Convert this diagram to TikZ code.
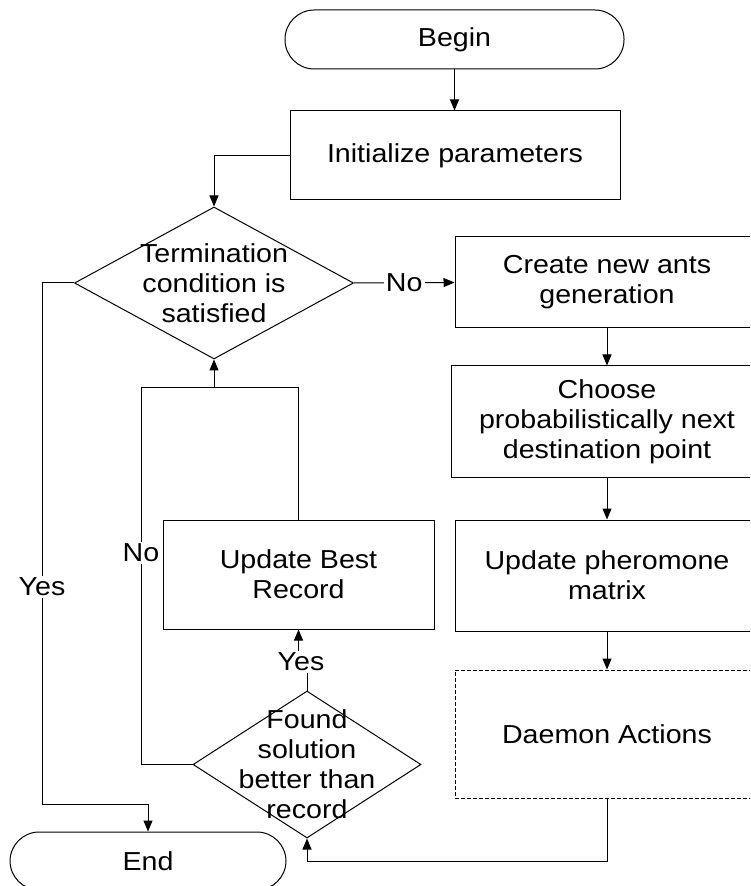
\documentclass[tikz,border=0pt]{standalone}
\usepackage{fontspec}
\setmainfont{Liberation Sans}[FakeStretch=1.1]
\usetikzlibrary{arrows.meta,shapes.geometric,calc}
\newcommand{\flowfont}{\fontsize{13pt}{15pt}\selectfont}
\tikzset{
  base/.style={draw, line width=0.5pt, inner sep=0pt, align=center, font=\flowfont},
  procbox/.style={base, rectangle},
  termbox/.style={base, rectangle, rounded corners=14.6pt},
  decbox/.style={base, diamond},
  dlabel/.style={font=\flowfont, align=center},
  conn/.style={line width=0.5pt},
  arr/.style={conn, -{Triangle[length=5.5pt,width=4.5pt]}},
  lbl/.style={font=\flowfont, fill=white, inner sep=1pt}
}
\begin{document}
\begin{tikzpicture}[x=0.5pt,y=-0.5pt]
\clip (0,0) rectangle (750,886);
\fill[white] (0,0) rectangle (750,886);

\node[termbox, minimum width=169.5pt, minimum height=29.5pt] (begin) at (454.5,39.5) {Begin};
\node[procbox, minimum width=165pt, minimum height=44.5pt] (init) at (455,155.5) {Initialize parameters};
\node[decbox, minimum width=139.5pt, minimum height=76pt] (term) at (214,283) {};
\node[dlabel] (termtxt) at (term.center) {Termination\\condition is\\satisfied};
\node[procbox, minimum width=152pt, minimum height=45.5pt] (create) at (607,282.5) {Create new ants\\generation};
\node[procbox, minimum width=156pt, minimum height=55.5pt] (choose) at (607,421.5) {Choose\\probabilistically next\\destination point};
\node[procbox, minimum width=152pt, minimum height=55.5pt] (pher) at (607,575.5) {Update pheromone\\matrix};
\node[procbox, dash pattern=on 2pt off 1pt, minimum width=152pt, minimum height=64pt] (daemon) at (607,734) {Daemon Actions};
\node[procbox, minimum width=135.5pt, minimum height=54.5pt] (best) at (298.5,574.5) {Update Best\\Record};
\node[decbox, minimum width=114pt, minimum height=73.5pt] (found) at (307,764.5) {};
\node[dlabel] (foundtxt) at (found.center) {Found\\solution\\better than\\record};
\node[termbox, minimum width=138pt, minimum height=29pt] (end) at (148,861) {End};

% connectors
\draw[arr] (begin.south) -- (begin.south |- init.north);
\draw[arr] (init.west) -| (term.north);
\draw[arr] (term.east) -- node[lbl] {No} (create.west);
\draw[arr] (create.south) -- (create.south |- choose.north);
\draw[arr] (choose.south) -- (choose.south |- pher.north);
\draw[arr] (pher.south) -- (pher.south |- daemon.north);

\coordinate (dBot) at (607,861);
\draw[arr] (daemon.south) -- (dBot) -| (found.south);

\coordinate (yesTurn) at (42,804);
\draw[arr] (term.west) -| (yesTurn) -| (end.north);
\node[lbl] (yesA) at (42,587) {Yes};

\coordinate (loopL) at (141,388);
\coordinate (loopJ) at (214,388);
\draw[conn] (found.west) -| (loopL) -- (best.north |- loopL) -- (best.north);
\draw[arr] (loopJ) -- (term.south);
\node[lbl] (noB) at (141,553) {No};

\coordinate (yesJog) at (307,662);
\draw[arr] (found.north) -- (yesJog) -| (best.south);
\node[lbl] (yesB) at (301,662) {Yes};
\end{tikzpicture}
\end{document}
